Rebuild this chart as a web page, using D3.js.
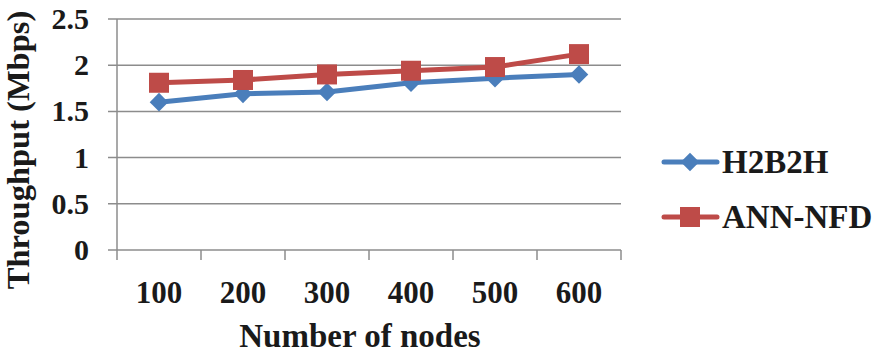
<!DOCTYPE html>
<html><head><meta charset="utf-8">
<script src="https://cdn.jsdelivr.net/npm/d3@7"></script>
<style>body{margin:0;background:#fff;}</style>
</head><body><svg id="c" width="877" height="355"></svg>
<script>
const categories = ["100","200","300","400","500","600"];
const h2b2h = [1.60, 1.69, 1.71, 1.81, 1.86, 1.90];
const annNfd = [1.81, 1.84, 1.90, 1.94, 1.98, 2.12];
const yTicks = [0, 0.5, 1, 1.5, 2, 2.5];
const seriesNames = ["H2B2H", "ANN-NFD"];
const colors = ["#4a7ebb", "#be4b48"];
const FF = "'Liberation Serif', 'Times New Roman', Times, serif";

const svg = d3.select("#c");
const L = 117, R = 621, T = 19, B = 250;
const x = d3.scaleBand().domain(categories).range([L, R]);
const y = d3.scaleLinear().domain([0, 2.5]).range([B, T]);

svg.append("g").selectAll("line").data(yTicks).join("line")
  .attr("x1", L - 9).attr("x2", R).attr("y1", d => y(d)).attr("y2", d => y(d))
  .attr("stroke", "#8c8c8c").attr("stroke-width", 1.5);
svg.append("line").attr("x1", L).attr("x2", L).attr("y1", T).attr("y2", B)
  .attr("stroke", "#8c8c8c").attr("stroke-width", 1.5);
const xt = [L].concat(categories.map(c => x(c) + x.bandwidth()));
svg.append("g").selectAll("line").data(xt).join("line")
  .attr("x1", d => d).attr("x2", d => d).attr("y1", B).attr("y2", B + 10)
  .attr("stroke", "#8c8c8c").attr("stroke-width", 1.5);

function txt(sel, size) {
  return sel.style("font-family", FF).style("font-weight", "700")
    .style("font-size", size + "px").attr("fill", "#1a1a1a");
}

txt(svg.append("g").selectAll("text").data(yTicks).join("text"), 30)
  .attr("x", 89).attr("y", d => y(d) + 10).attr("text-anchor", "end").text(d => d);
txt(svg.append("g").selectAll("text").data(categories).join("text"), 31)
  .attr("x", d => x(d) + x.bandwidth() / 2).attr("y", 303).attr("text-anchor", "middle").text(d => d);

txt(svg.append("text"), 33).attr("x", 360).attr("y", 347).attr("text-anchor", "middle")
  .text("Number of nodes");
txt(svg.append("text"), 32.5).attr("transform", "translate(29,150) rotate(-90)").attr("text-anchor", "middle")
  .text("Throughput (Mbps)");

const line = d3.line().x((d, i) => x(categories[i]) + x.bandwidth() / 2).y(d => y(d));
const data = [h2b2h, annNfd];
data.forEach((vals, si) => {
  svg.append("path").datum(vals).attr("d", line).attr("fill", "none")
    .attr("stroke", colors[si]).attr("stroke-width", 5).attr("stroke-linejoin", "round");
  const g = svg.append("g");
  if (si === 0) {
    g.selectAll("path").data(vals).join("path")
      .attr("d", d3.symbol(d3.symbolDiamond2, 220)())
      .attr("transform", (d, i) => `translate(${x(categories[i]) + x.bandwidth() / 2},${y(d)})`)
      .attr("fill", colors[si]);
  } else {
    g.selectAll("rect").data(vals).join("rect")
      .attr("x", (d, i) => x(categories[i]) + x.bandwidth() / 2 - 10)
      .attr("y", d => y(d) - 10).attr("width", 20).attr("height", 20)
      .attr("fill", colors[si]);
  }
});

const ly = [162, 217];
seriesNames.forEach((n, si) => {
  svg.append("line").attr("x1", 664).attr("x2", 717).attr("y1", ly[si]).attr("y2", ly[si])
    .attr("stroke", colors[si]).attr("stroke-width", 5).attr("stroke-linecap", "round");
  if (si === 0) {
    svg.append("path").attr("d", d3.symbol(d3.symbolDiamond2, 220)())
      .attr("transform", `translate(690,${ly[si]})`).attr("fill", colors[si]);
  } else {
    svg.append("rect").attr("x", 680).attr("y", ly[si] - 10).attr("width", 20).attr("height", 20)
      .attr("fill", colors[si]);
  }
  txt(svg.append("text"), 33).attr("x", 722).attr("y", ly[si] + 11).text(n);
});
</script></body></html>
